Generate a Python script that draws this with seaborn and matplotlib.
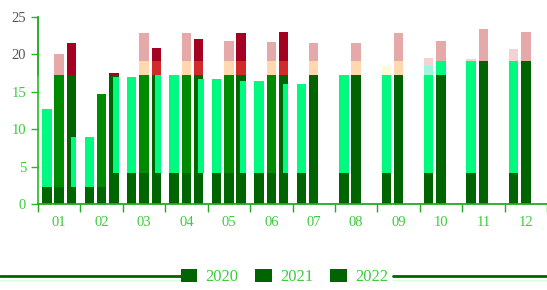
import numpy as np
import pandas as pd
import seaborn as sns
import matplotlib.pyplot as plt
from matplotlib.lines import Line2D
from matplotlib.patches import Patch

months = ["01", "02", "03", "04", "05", "06", "07", "08", "09", "10", "11", "12"]
years = ["2020", "2021", "2022"]

# segment heights, bottom to top: base, main, mid, top
base_2020 = [2.3, 2.3, 4.1, 4.1, 4.1, 4.1, 4.1, 4.1, 4.1, 4.1, 4.1, 4.1]
main_2020 = [10.4, 6.7, 12.9, 13.2, 12.6, 12.3, 12.0, 13.2, 13.2, 13.2, 15.0, 15.0]
mid_2020 = [0, 0, 0, 0, 0, 0, 0, 0, 1.1, 1.1, 0, 0]
top_2020 = [0, 0, 0, 0, 0, 0, 0, 0, 0, 1.1, 0.3, 1.6]

base_2021 = [2.3, 2.3, 4.1, 4.1, 4.1, 4.1, 4.1, 4.1, 4.1, 4.1, 4.1, 4.1]
main_2021 = [15.0, 12.4, 13.2, 13.2, 13.2, 13.2, 13.2, 13.2, 13.2, 13.2, 15.0, 15.0]
mid_2021 = [0, 0, 1.8, 1.8, 1.8, 1.8, 1.8, 1.8, 1.8, 1.8, 0, 0]
top_2021 = [2.7, 0, 3.8, 3.8, 2.7, 2.5, 2.4, 2.4, 3.8, 2.7, 4.3, 3.9]

base_2022 = [2.3, 2.3, 4.1, 4.1, 4.1, 4.1, 0, 0, 0, 0, 0, 0]
main_2022 = [15.0, 15.0, 13.2, 13.2, 13.2, 13.2, 0, 0, 0, 0, 0, 0]
mid_2022 = [0, 0, 1.8, 1.8, 1.8, 1.8, 0, 0, 0, 0, 0, 0]
top_2022 = [4.2, 0.2, 1.8, 3.0, 3.7, 3.9, 0, 0, 0, 0, 0, 0]

segs = {"2020": [base_2020, main_2020, mid_2020, top_2020],
        "2021": [base_2021, main_2021, mid_2021, top_2021],
        "2022": [base_2022, main_2022, mid_2022, top_2022]}

dark = "#006400"
spring = "#00fa80"
green_txt = "#3ccc3c"
colors = {"2020": [dark, spring, "#fffbd8", "#f2d2d2"],
          "2021": [dark, "#008a00", "#ffd8b0", "#e6a9a9"],
          "2022": [dark, dark, "#d02a2a", "#a30022"]}


def seg_color(year, k, i):
    if year == "2021" and k == 1 and i >= 6:
        return dark
    if year == "2021" and k == 2 and i == 9:
        return spring
    if year == "2020" and k == 2 and i == 9:
        return "#9ff5e0"
    return colors[year][k]


sns.set_style("ticks")
plt.rcParams["font.family"] = ["Liberation Serif", "DejaVu Serif"]

fig = plt.figure(figsize=(5.47, 2.90), dpi=100)
ax = fig.add_axes([38 / 547, 1 - 204 / 290, 1 - 38 / 547, 187 / 290])

cum = {y: np.cumsum(np.array(segs[y]), axis=0) for y in years}
for k in [3, 2, 1, 0]:
    df = pd.DataFrame({"month": np.tile(months, 3),
                       "year": np.repeat(years, 12),
                       "value": np.concatenate([cum[y][k] for y in years])})
    n0 = len(ax.containers)
    sns.barplot(data=df, x="month", y="value", hue="year", order=months,
                hue_order=years, width=0.87, gap=0.23, errorbar=None,
                legend=False, ax=ax)
    for hi, cont in enumerate(ax.containers[n0:]):
        for p in cont:
            i = int(round(p.get_x() + p.get_width() / 2))
            p.set_facecolor(seg_color(years[hi], k, i))
            p.set_edgecolor("none")
            p.set_linewidth(0)

# stray 2020 bars from the following month drawn into the 2022 slot
for i in range(6):
    ax.bar(i + 0.29 + 0.045, main_2020[i + 1], bottom=base_2020[i + 1],
           width=0.134, color=spring, linewidth=0)

ax.set_xlim(-0.5, 11.5)
ax.set_ylim(0, 25)
ax.set_xlabel("")
ax.set_ylabel("")
sns.despine(ax=ax)
ax.spines["bottom"].set_color("#22aa22")
ax.spines["bottom"].set_linewidth(1.3)
ax.spines["left"].set_color("#22bb22")
ax.spines["left"].set_linewidth(1.2)
ax.plot([0, 0], [17.3, 25], transform=ax.get_yaxis_transform(),
        color="#555555", lw=1.2, clip_on=False)

ax.set_xticks(np.arange(-0.5, 12, 1))
ax.set_xticklabels([])
ax.set_xticks(range(12), minor=True)
ax.set_xticklabels(months, minor=True)
ax.tick_params(axis="x", which="major", length=6, width=1, color="#22aa22",
               direction="out")
ax.tick_params(axis="x", which="minor", length=0, pad=9, labelsize=10.5,
               labelcolor=green_txt)

ax.set_yticks(range(0, 26, 5))
ax.tick_params(axis="y", length=5, width=1, color="#22bb22", pad=3.5,
               labelsize=10.5, labelcolor=green_txt)
for t, v in zip(ax.yaxis.get_major_ticks(), range(0, 26, 5)):
    if v >= 20:
        t.label1.set_color("#555555")
        t.tick1line.set_color("#555555")

handles = [Patch(facecolor=dark, edgecolor="none") for _ in years]
fig.legend(handles, years, loc="center", bbox_to_anchor=(0.52, 0.045),
           ncol=3, frameon=False, fontsize=12, labelcolor=green_txt,
           handlelength=1.0, handleheight=0.9, handletextpad=0.5,
           columnspacing=1.0, borderpad=0.1)

fig.add_artist(Line2D([0, 0.33], [0.048, 0.048], color=dark, lw=2))
fig.add_artist(Line2D([0.718, 1.0], [0.048, 0.048], color=dark, lw=2))
fig.add_artist(Line2D([0, 0.33], [0.036, 0.036], color="#d8ffd8", lw=1))
fig.add_artist(Line2D([0.718, 1.0], [0.036, 0.036], color="#d8ffd8", lw=1))

fig.savefig("out.png", dpi=100)
